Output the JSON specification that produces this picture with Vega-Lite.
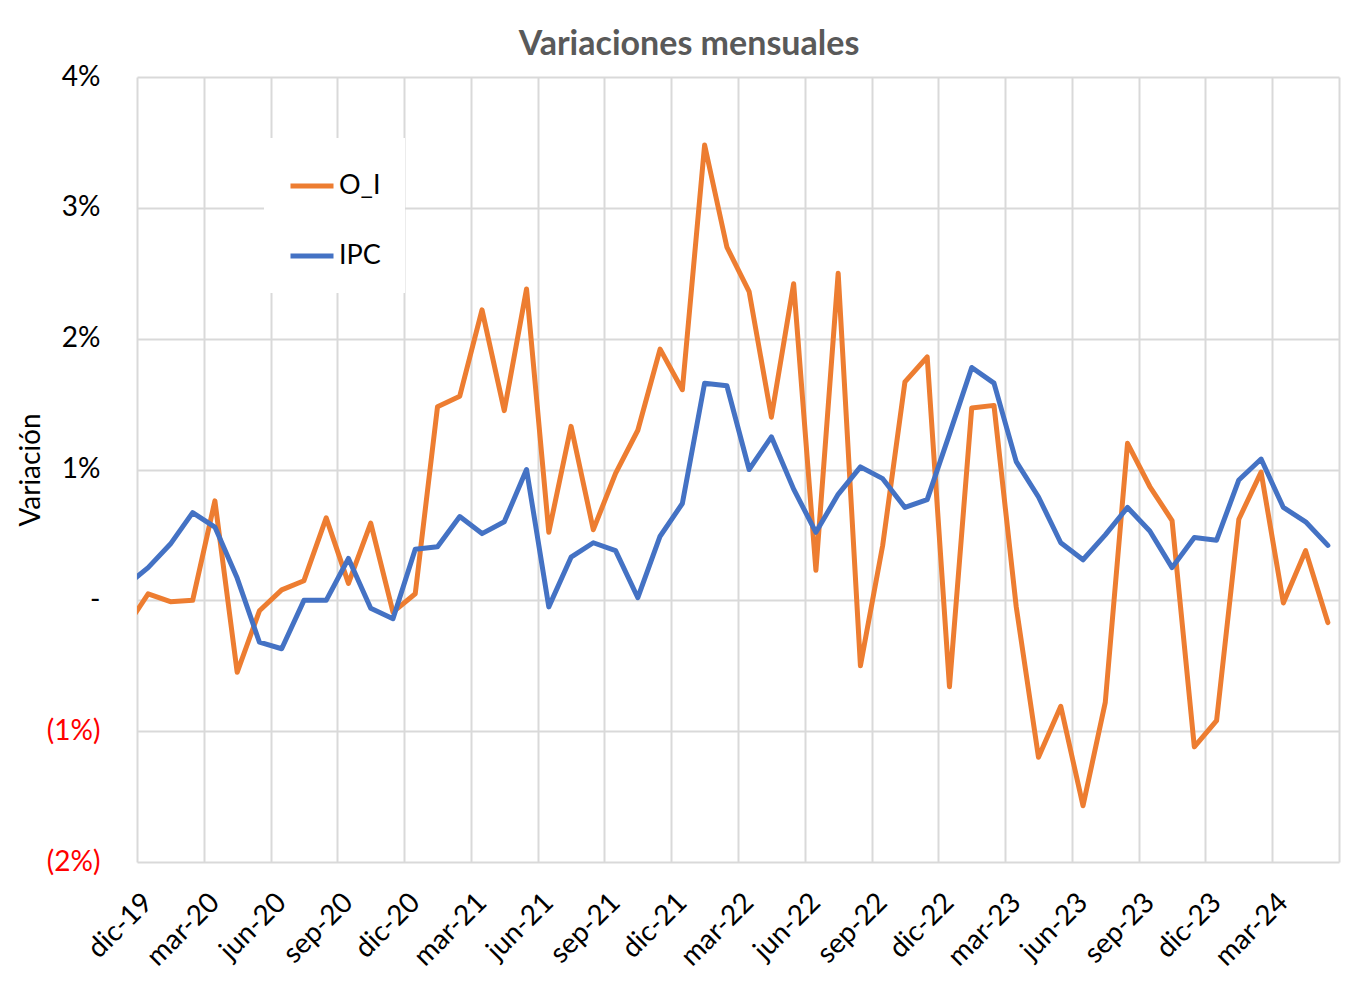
{
  "$schema": "https://vega.github.io/schema/vega-lite/v6.json",
  "width": 1202,
  "height": 785,
  "autosize": {"type": "none"},
  "padding": {"left": 137, "top": 77, "right": 7, "bottom": 123},
  "background": "white",
  "title": {
    "text": "Variaciones mensuales",
    "font": "Lato",
    "fontSize": 34,
    "fontWeight": "bold",
    "color": "#595959",
    "anchor": "middle",
    "dx": -49,
    "offset": 1
  },
  "data": {
    "values": [
      {"n": -1, "mes": "nov-19", "O_I": -0.21, "IPC": 0.11},
      {"n": 0, "mes": "dic-19", "O_I": 0.05, "IPC": 0.25},
      {"n": 1, "mes": "ene-20", "O_I": -0.01, "IPC": 0.43},
      {"n": 2, "mes": "feb-20", "O_I": 0.0, "IPC": 0.67},
      {"n": 3, "mes": "mar-20", "O_I": 0.76, "IPC": 0.56},
      {"n": 4, "mes": "abr-20", "O_I": -0.55, "IPC": 0.17},
      {"n": 5, "mes": "may-20", "O_I": -0.08, "IPC": -0.32},
      {"n": 6, "mes": "jun-20", "O_I": 0.08, "IPC": -0.37},
      {"n": 7, "mes": "jul-20", "O_I": 0.15, "IPC": 0.0},
      {"n": 8, "mes": "ago-20", "O_I": 0.63, "IPC": 0.0},
      {"n": 9, "mes": "sep-20", "O_I": 0.13, "IPC": 0.32},
      {"n": 10, "mes": "oct-20", "O_I": 0.59, "IPC": -0.06},
      {"n": 11, "mes": "nov-20", "O_I": -0.09, "IPC": -0.14},
      {"n": 12, "mes": "dic-20", "O_I": 0.05, "IPC": 0.39},
      {"n": 13, "mes": "ene-21", "O_I": 1.48, "IPC": 0.41},
      {"n": 14, "mes": "feb-21", "O_I": 1.56, "IPC": 0.64},
      {"n": 15, "mes": "mar-21", "O_I": 2.22, "IPC": 0.51},
      {"n": 16, "mes": "abr-21", "O_I": 1.45, "IPC": 0.6},
      {"n": 17, "mes": "may-21", "O_I": 2.38, "IPC": 1.0},
      {"n": 18, "mes": "jun-21", "O_I": 0.52, "IPC": -0.05},
      {"n": 19, "mes": "jul-21", "O_I": 1.33, "IPC": 0.33},
      {"n": 20, "mes": "ago-21", "O_I": 0.54, "IPC": 0.44},
      {"n": 21, "mes": "sep-21", "O_I": 0.97, "IPC": 0.38},
      {"n": 22, "mes": "oct-21", "O_I": 1.3, "IPC": 0.02},
      {"n": 23, "mes": "nov-21", "O_I": 1.92, "IPC": 0.49},
      {"n": 24, "mes": "dic-21", "O_I": 1.61, "IPC": 0.74},
      {"n": 25, "mes": "ene-22", "O_I": 3.48, "IPC": 1.66},
      {"n": 26, "mes": "feb-22", "O_I": 2.7, "IPC": 1.64},
      {"n": 27, "mes": "mar-22", "O_I": 2.36, "IPC": 1.0},
      {"n": 28, "mes": "abr-22", "O_I": 1.4, "IPC": 1.25},
      {"n": 29, "mes": "may-22", "O_I": 2.42, "IPC": 0.85},
      {"n": 30, "mes": "jun-22", "O_I": 0.23, "IPC": 0.52},
      {"n": 31, "mes": "jul-22", "O_I": 2.5, "IPC": 0.81},
      {"n": 32, "mes": "ago-22", "O_I": -0.5, "IPC": 1.02},
      {"n": 33, "mes": "sep-22", "O_I": 0.42, "IPC": 0.93},
      {"n": 34, "mes": "oct-22", "O_I": 1.67, "IPC": 0.71},
      {"n": 35, "mes": "nov-22", "O_I": 1.86, "IPC": 0.77},
      {"n": 36, "mes": "dic-22", "O_I": -0.66, "IPC": 1.27},
      {"n": 37, "mes": "ene-23", "O_I": 1.47, "IPC": 1.78},
      {"n": 38, "mes": "feb-23", "O_I": 1.49, "IPC": 1.66},
      {"n": 39, "mes": "mar-23", "O_I": -0.05, "IPC": 1.06},
      {"n": 40, "mes": "abr-23", "O_I": -1.2, "IPC": 0.79},
      {"n": 41, "mes": "may-23", "O_I": -0.81, "IPC": 0.44},
      {"n": 42, "mes": "jun-23", "O_I": -1.57, "IPC": 0.31},
      {"n": 43, "mes": "jul-23", "O_I": -0.78, "IPC": 0.5},
      {"n": 44, "mes": "ago-23", "O_I": 1.2, "IPC": 0.71},
      {"n": 45, "mes": "sep-23", "O_I": 0.87, "IPC": 0.53},
      {"n": 46, "mes": "oct-23", "O_I": 0.61, "IPC": 0.25},
      {"n": 47, "mes": "nov-23", "O_I": -1.12, "IPC": 0.48},
      {"n": 48, "mes": "dic-23", "O_I": -0.92, "IPC": 0.46},
      {"n": 49, "mes": "ene-24", "O_I": 0.62, "IPC": 0.92},
      {"n": 50, "mes": "feb-24", "O_I": 0.98, "IPC": 1.08},
      {"n": 51, "mes": "mar-24", "O_I": -0.02, "IPC": 0.71},
      {"n": 52, "mes": "abr-24", "O_I": 0.38, "IPC": 0.6},
      {"n": 53, "mes": "may-24", "O_I": -0.17, "IPC": 0.42}
    ]
  },
  "transform": [{"fold": ["O_I", "IPC"], "as": ["serie", "v"]}],
  "mark": {"type": "line", "strokeWidth": 5, "strokeJoin": "round", "strokeCap": "round", "clip": true},
  "encoding": {
    "x": {
      "field": "n",
      "type": "quantitative",
      "scale": {"domain": [-0.5, 53.5], "nice": false, "zero": false},
      "axis": {
        "title": null,
        "values": [-0.5, 2.5, 5.5, 8.5, 11.5, 14.5, 17.5, 20.5, 23.5, 26.5, 29.5, 32.5, 35.5, 38.5, 41.5, 44.5, 47.5, 50.5, 53.5],
        "labelExpr": "['dic-19','mar-20','jun-20','sep-20','dic-20','mar-21','jun-21','sep-21','dic-21','mar-22','jun-22','sep-22','dic-22','mar-23','jun-23','sep-23','dic-23','mar-24',''][round((datum.value+0.5)/3)]",
        "labelAngle": -45,
        "labelAlign": "right",
        "labelBaseline": "middle",
        "labelOffset": 11.1,
        "labelPadding": 36,
        "labelFont": "Lato",
        "labelFontSize": 28,
        "labelColor": "#000000",
        "labelOverlap": false,
        "labelFlush": false,
        "labelBound": false,
        "domain": false,
        "ticks": false,
        "grid": true,
        "gridColor": "#D9D9D9",
        "gridWidth": 2
      }
    },
    "y": {
      "field": "v",
      "type": "quantitative",
      "scale": {"domain": [-2, 4], "nice": false},
      "axis": {
        "title": "Variación",
        "titleFont": "Lato",
        "titleFontSize": 28,
        "titleFontWeight": "normal",
        "titleColor": "#000000",
        "titlePadding": 1,
        "values": [-2, -1, 0, 1, 2, 3, 4],
        "labelExpr": "datum.value == 0 ? '-' : (datum.value < 0 ? '(' + abs(datum.value) + '%)' : datum.value + '%\u00a0')",
        "labelColor": {"condition": {"test": "datum.value < 0", "value": "#FF0000"}, "value": "#000000"},
        "labelFont": "Lato",
        "labelFontSize": 28,
        "labelPadding": 37,
        "domain": false,
        "ticks": false,
        "grid": true,
        "gridColor": "#D9D9D9",
        "gridWidth": 2
      }
    },
    "color": {
      "field": "serie",
      "type": "nominal",
      "scale": {"domain": ["O_I", "IPC"], "range": ["#ED7D31", "#4472C4"]},
      "legend": {
        "title": null,
        "orient": "none",
        "legendX": 127,
        "legendY": 61,
        "fillColor": "white",
        "padding": 24,
        "symbolType": "stroke",
        "symbolSize": 1849,
        "symbolStrokeWidth": 5,
        "labelFont": "Lato",
        "labelFontSize": 27,
        "labelColor": "#000000",
        "labelOffset": 3,
        "rowPadding": 33
      }
    }
  },
  "config": {"view": {"stroke": null}}
}
